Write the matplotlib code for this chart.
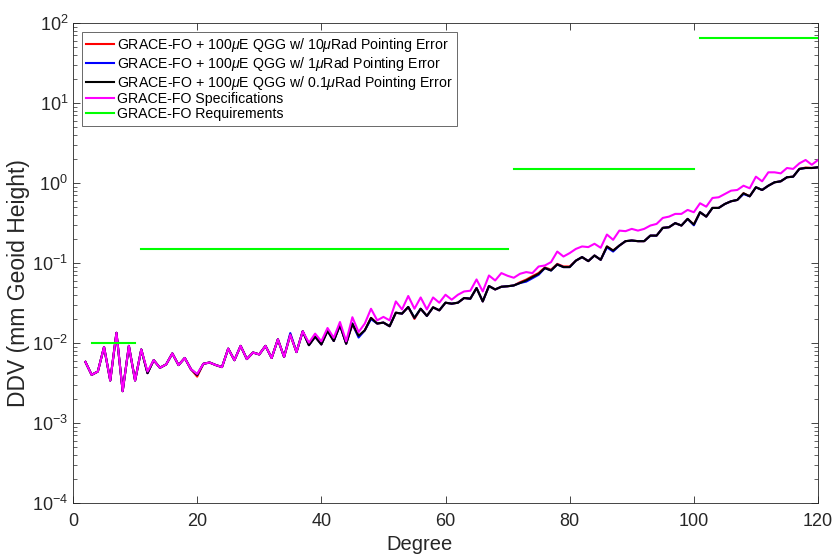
import matplotlib
matplotlib.use("Agg")
import matplotlib.pyplot as plt
from matplotlib.ticker import LogLocator, NullFormatter, FixedLocator

plt.rcParams['font.family'] = ['Liberation Sans', 'DejaVu Sans']
plt.rcParams['mathtext.fontset'] = 'custom'
plt.rcParams['mathtext.rm'] = 'Liberation Sans'
plt.rcParams['mathtext.it'] = 'Liberation Sans:italic'

degrees = list(range(2, 121))

qgg_10urad = [
    0.0058, 0.0040, 0.0044, 0.0089, 0.0034, 0.0134, 0.0025, 0.0092, 0.0034, 0.0083,
    0.0042, 0.0061, 0.0049, 0.0054, 0.0074, 0.0053, 0.0065, 0.0047, 0.0038, 0.0055,
    0.0057, 0.0053, 0.0050, 0.0085, 0.0061, 0.0092, 0.0063, 0.0076, 0.0072, 0.0092,
    0.0065, 0.0111, 0.0067, 0.0127, 0.0077, 0.0140, 0.0094, 0.0120, 0.0096, 0.0142,
    0.0106, 0.0168, 0.0098, 0.0170, 0.0121, 0.0144, 0.0206, 0.0175, 0.0180, 0.0162,
    0.0239, 0.0233, 0.0282, 0.0200, 0.0268, 0.0218, 0.0279, 0.0256, 0.0319, 0.0310,
    0.0319, 0.0365, 0.0358, 0.0486, 0.0331, 0.0515, 0.0467, 0.0505, 0.0512, 0.0524,
    0.0575, 0.0620, 0.0685, 0.0750, 0.0880, 0.0825, 0.0975, 0.0905, 0.0905, 0.107,
    0.1185, 0.1056, 0.124, 0.1096, 0.161, 0.143, 0.165, 0.1875, 0.191, 0.1875,
    0.1875, 0.220, 0.220, 0.275, 0.280, 0.315, 0.294, 0.356, 0.302, 0.431,
    0.380, 0.488, 0.488, 0.547, 0.591, 0.614, 0.744, 0.682, 0.884, 0.818,
    0.925, 1.02, 1.05, 1.18, 1.20, 1.50, 1.56, 1.54, 1.57,
]

qgg_1urad = [
    0.0058, 0.0040, 0.0044, 0.0089, 0.0034, 0.0134, 0.0025, 0.0092, 0.0034, 0.0083,
    0.0042, 0.0061, 0.0049, 0.0054, 0.0074, 0.0053, 0.0065, 0.0047, 0.0040, 0.0055,
    0.0057, 0.0053, 0.0050, 0.0085, 0.0061, 0.0092, 0.0063, 0.0076, 0.0072, 0.0092,
    0.0065, 0.0111, 0.0067, 0.0133, 0.0077, 0.0140, 0.0094, 0.0120, 0.0096, 0.0142,
    0.0106, 0.0168, 0.0098, 0.0175, 0.0117, 0.0144, 0.0199, 0.0175, 0.0180, 0.0162,
    0.0239, 0.0233, 0.0282, 0.0206, 0.0268, 0.0218, 0.0279, 0.0256, 0.0319, 0.0310,
    0.0319, 0.0365, 0.0358, 0.0486, 0.0331, 0.0515, 0.0467, 0.0505, 0.0512, 0.0524,
    0.0562, 0.0585, 0.0645, 0.0712, 0.0864, 0.0806, 0.0958, 0.0889, 0.0889, 0.107,
    0.1185, 0.1056, 0.124, 0.1096, 0.157, 0.139, 0.165, 0.1875, 0.191, 0.1875,
    0.1875, 0.220, 0.220, 0.275, 0.280, 0.315, 0.294, 0.356, 0.296, 0.431,
    0.380, 0.488, 0.488, 0.547, 0.591, 0.614, 0.728, 0.682, 0.884, 0.818,
    0.925, 1.02, 1.05, 1.18, 1.20, 1.50, 1.54, 1.54, 1.57,
]

qgg_01urad = [
    0.0058, 0.0040, 0.0044, 0.0089, 0.0034, 0.0134, 0.0025, 0.0092, 0.0034, 0.0083,
    0.0042, 0.0061, 0.0049, 0.0054, 0.0074, 0.0053, 0.0065, 0.0047, 0.0040, 0.0055,
    0.0057, 0.0053, 0.0050, 0.0085, 0.0061, 0.0092, 0.0063, 0.0076, 0.0072, 0.0092,
    0.0065, 0.0111, 0.0067, 0.0127, 0.0077, 0.0140, 0.0094, 0.0120, 0.0096, 0.0142,
    0.0106, 0.0168, 0.0098, 0.0175, 0.0123, 0.0144, 0.0206, 0.0175, 0.0180, 0.0162,
    0.0239, 0.0233, 0.0282, 0.0206, 0.0268, 0.0218, 0.0279, 0.0256, 0.0319, 0.0310,
    0.0319, 0.0365, 0.0358, 0.0486, 0.0331, 0.0515, 0.0467, 0.0505, 0.0512, 0.0524,
    0.0562, 0.0605, 0.0667, 0.0733, 0.0864, 0.0806, 0.0958, 0.0889, 0.0889, 0.107,
    0.1185, 0.1056, 0.124, 0.1096, 0.161, 0.143, 0.165, 0.1875, 0.191, 0.1875,
    0.1875, 0.220, 0.220, 0.275, 0.280, 0.315, 0.294, 0.356, 0.302, 0.431,
    0.380, 0.488, 0.488, 0.547, 0.591, 0.614, 0.744, 0.682, 0.884, 0.818,
    0.925, 1.02, 1.05, 1.18, 1.20, 1.50, 1.54, 1.54, 1.57,
]

specifications = [
    0.0058, 0.0040, 0.0044, 0.0089, 0.0034, 0.0134, 0.0025, 0.0092, 0.0034, 0.0083,
    0.0044, 0.0061, 0.0049, 0.0054, 0.0074, 0.0053, 0.0065, 0.0047, 0.0041, 0.0055,
    0.0057, 0.0053, 0.0050, 0.0085, 0.0061, 0.0092, 0.0063, 0.0076, 0.0072, 0.0092,
    0.0065, 0.0111, 0.0067, 0.0127, 0.0077, 0.0140, 0.0101, 0.0131, 0.0105, 0.0154,
    0.0116, 0.0183, 0.0105, 0.0210, 0.0137, 0.0175, 0.0268, 0.0192, 0.0212, 0.0192,
    0.0331, 0.0263, 0.0387, 0.0268, 0.0371, 0.0263, 0.0371, 0.0319, 0.0401, 0.0348,
    0.0401, 0.0441, 0.0450, 0.0623, 0.0441, 0.0698, 0.0605, 0.0748, 0.0692, 0.0654,
    0.0733, 0.0770, 0.0748, 0.0904, 0.0931, 0.1026, 0.139, 0.1205, 0.133, 0.150,
    0.161, 0.158, 0.174, 0.155, 0.227, 0.195, 0.254, 0.250, 0.267, 0.254,
    0.267, 0.294, 0.308, 0.366, 0.380, 0.411, 0.411, 0.461, 0.431, 0.558,
    0.506, 0.650, 0.663, 0.729, 0.802, 0.818, 0.925, 0.859, 1.20, 1.05,
    1.36, 1.36, 1.32, 1.54, 1.50, 1.76, 1.94, 1.69, 1.94,
]

req_start = [3, 11, 71, 101]
req_end = [10, 70, 100, 120]
req_value = [0.01, 0.15, 1.5, 65]

series_labels = [
    r'GRACE-FO + 100$\mu$E QGG w/ 10$\mu$Rad Pointing Error',
    r'GRACE-FO + 100$\mu$E QGG w/ 1$\mu$Rad Pointing Error',
    r'GRACE-FO + 100$\mu$E QGG w/ 0.1$\mu$Rad Pointing Error',
    'GRACE-FO Specifications',
    'GRACE-FO Requirements',
]
x_ticks = [0, 20, 40, 60, 80, 100, 120]

fig = plt.figure(figsize=(8.36, 5.58), dpi=100)
ax = fig.add_axes([73/836, 1-503/558, 745/836, 480/558])

lw = 1.5
ax.plot(degrees, qgg_10urad, color='#ff0000', lw=lw, label=series_labels[0])
ax.plot(degrees, qgg_1urad, color='#0000ff', lw=lw, label=series_labels[1])
ax.plot(degrees, qgg_01urad, color='#000000', lw=lw, label=series_labels[2])
ax.plot(degrees, specifications, color='#ff00ff', lw=lw, label=series_labels[3])
for i, (s, e, v) in enumerate(zip(req_start, req_end, req_value)):
    ax.plot([s, e], [v, v], color='#00ff00', lw=lw,
            label=series_labels[4] if i == 0 else None)

ax.set_yscale('log')
ax.set_xlim(0, 120)
ax.set_ylim(1e-4, 1e2)
ax.xaxis.set_major_locator(FixedLocator(x_ticks))
ax.yaxis.set_major_locator(LogLocator(base=10, numticks=10))
ax.yaxis.set_minor_locator(LogLocator(base=10, subs=range(2, 10), numticks=20))
ax.yaxis.set_minor_formatter(NullFormatter())

ax.tick_params(axis='both', which='both', direction='in', top=True, right=True,
               colors='#262626', labelcolor='#262626')
ax.tick_params(axis='both', which='major', length=5, width=0.6, labelsize=13)
ax.tick_params(axis='y', which='minor', length=3, width=0.5)
ax.tick_params(axis='x', which='major', pad=7)
for sp in ax.spines.values():
    sp.set_color('#262626')
    sp.set_linewidth(0.6)

ax.set_xlabel('Degree', fontsize=14.5, color='#262626', va='center')
ax.xaxis.set_label_coords((420 - 73) / 745, (503 - 545) / 480)
ax.set_ylabel('DDV (mm Geoid Height)', fontsize=16.5, color='#262626', va='center')
ax.yaxis.set_label_coords((19 - 73) / 745, (503 - 283) / 480)

leg = ax.legend(loc='upper left', bbox_to_anchor=(0.012, 0.982), fontsize=10.2,
                frameon=True, fancybox=False, edgecolor='#262626',
                handlelength=1.95, handletextpad=0.2, labelspacing=0.06,
                borderpad=0.3, borderaxespad=0)
leg.get_frame().set_linewidth(0.6)

fig.savefig('out.png', dpi=100)
